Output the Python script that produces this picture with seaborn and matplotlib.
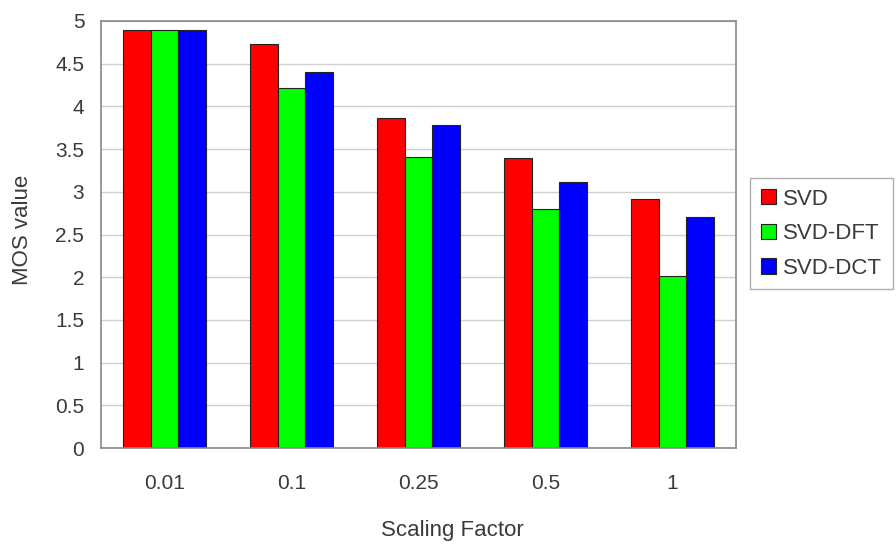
import matplotlib
matplotlib.use("Agg")
import matplotlib.pyplot as plt
import seaborn as sns
import pandas as pd

categories = ["0.01", "0.1", "0.25", "0.5", "1"]
svd = [4.9, 4.73, 3.87, 3.4, 2.91]
svd_dft = [4.89, 4.21, 3.41, 2.8, 2.01]
svd_dct = [4.9, 4.4, 3.78, 3.11, 2.71]
series_names = ["SVD", "SVD-DFT", "SVD-DCT"]
colors = ["#ff0000", "#00ff00", "#0000ff"]
ytick_vals = [0, 0.5, 1, 1.5, 2, 2.5, 3, 3.5, 4, 4.5, 5]
ytick_labels = ["0", "0.5", "1", "1.5", "2", "2.5", "3", "3.5", "4", "4.5", "5"]

rows = []
for name, vals in zip(series_names, [svd, svd_dft, svd_dct]):
    for c, v in zip(categories, vals):
        rows.append({"Scaling Factor": c, "MOS value": v, "Series": name})
df = pd.DataFrame(rows)

sns.set_style("white")
plt.rcParams['font.family'] = ['Liberation Sans', 'DejaVu Sans']
text_color = "#3a3a3a"
W, H = 896, 544

fig = plt.figure(figsize=(W / 100, H / 100), dpi=100)
ax = fig.add_axes([101 / W, 1 - 448 / H, (736 - 101) / W, (448 - 21) / H])

sns.barplot(data=df, x="Scaling Factor", y="MOS value", hue="Series",
            order=categories, hue_order=series_names, palette=colors,
            width=0.66, edgecolor="#222222", linewidth=0.8, saturation=1,
            ax=ax, legend=True)

ax.set_ylim(0, 5)
ax.set_xlim(-0.5, 4.5)
ax.set_yticks(ytick_vals)
ax.set_yticklabels(ytick_labels)
ax.yaxis.grid(True, color="#d0d0d0", linewidth=1)
ax.set_axisbelow(True)
for s in ax.spines.values():
    s.set_color("#888888")
    s.set_linewidth(1.2)
ax.tick_params(axis="both", colors=text_color, labelsize=15, length=0)
ax.tick_params(axis="y", pad=12)
ax.tick_params(axis="x", pad=18.5)
ax.set_xlabel("")
ax.set_ylabel("")
fig.text(452 / W, 1 - 536 / H, "Scaling Factor", ha="center", va="baseline",
         fontsize=16, color=text_color)
fig.text(22.5 / W, 1 - 230 / H, "MOS value", ha="center", va="center",
         rotation=90, fontsize=16, color=text_color)

leg = ax.legend(loc="upper left", bbox_to_anchor=(750 / W, 1 - 178 / H),
                bbox_transform=fig.transFigure, frameon=True, fancybox=False,
                fontsize=16, handlelength=0.675, handleheight=0.675,
                handletextpad=0.33, labelspacing=0.61, borderpad=0.48,
                borderaxespad=0)
leg.get_frame().set_edgecolor("#999999")
leg.get_frame().set_linewidth(1)
for t in leg.get_texts():
    t.set_color(text_color)

fig.savefig("out.png", dpi=100)
